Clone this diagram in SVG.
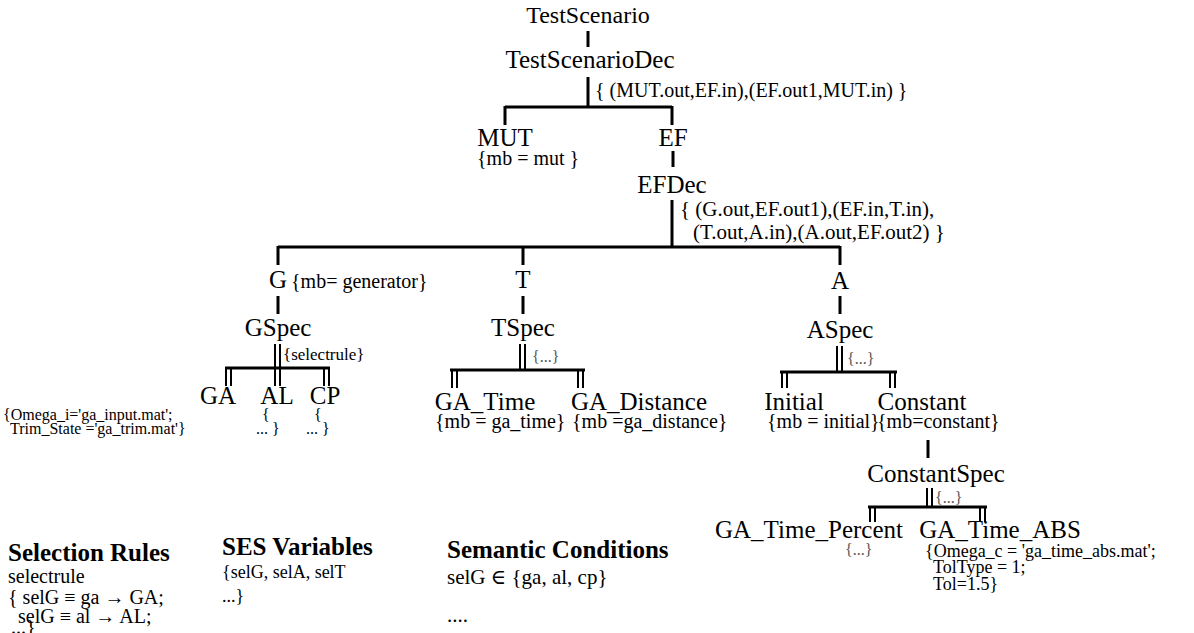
<svg xmlns="http://www.w3.org/2000/svg" width="1194" height="633" viewBox="0 0 1194 633" font-family="'Liberation Serif', 'Times New Roman', Times, 'DejaVu Serif', serif">
  <style>
    text { font-family: "Liberation Serif", "Times New Roman", Times, "DejaVu Serif", serif; fill: #000; }
    .lbl { font-size: 25px; text-anchor: middle; }
    .ann { font-size: 20px; }
    .ann2 { font-size: 21px; }
    .sel { font-size: 17px; }
    .sm { font-size: 16px; }
    .abs { font-size: 18px; }
    .dots { font-size: 16px; fill: #555; }
    .hd { font-size: 25px; font-weight: bold; }
    .rule { font-size: 20px; }
    .var { font-size: 18px; }
    .cond { font-size: 21px; }
    .edge { stroke: #000; stroke-width: 3; fill: none; }
    .spec { stroke: #000; stroke-width: 2; fill: none; }
  </style>
  <rect width="1194" height="633" fill="#fff"/>

  <!-- connectors: single lines = aspects, double lines = specializations -->
  <g id="connectors">
    <path class="edge" d="M588 31V47"/>
    <path class="edge" d="M588 77V107M505 107H672M505 106V125M672 106V125"/>
    <path class="edge" d="M673 151V167"/>
    <path class="edge" d="M672 200V247M278 247H840M278 246V265M523 246V265M840 246V265"/>
    <path class="edge" d="M278 296V314M523 296V314M840 296V314"/>

    <!-- GSpec -->
    <path class="spec" d="M275 344V368M280 344V368"/>
    <path class="edge" d="M225 368H330"/>
    <path class="spec" d="M226 368V386M231 368V386M275 368V386M280 368V386M324 368V386M329 368V386"/>
    <!-- TSpec -->
    <path class="spec" d="M520 344V370M525 344V370"/>
    <path class="edge" d="M450 370H585"/>
    <path class="spec" d="M452 370V388M457 370V388M578 370V388M583 370V388"/>
    <!-- ASpec -->
    <path class="spec" d="M837 346V372M842 346V372"/>
    <path class="edge" d="M780 372H897"/>
    <path class="spec" d="M782 372V388M787 372V388M890 372V388M895 372V388"/>
    <!-- Constant -> ConstantSpec -->
    <path class="edge" d="M928 440V458"/>
    <path class="spec" d="M927 488V507M932 488V507"/>
    <path class="edge" d="M868 507H987"/>
    <path class="spec" d="M870 507V522M875 507V522M980 507V522M985 507V522"/>
  </g>

  <g id="TestScenario"><text class="lbl" x="588" y="23" style="font-size:24px">TestScenario</text></g>
  <g id="TestScenarioDec">
    <text class="lbl" x="590" y="68">TestScenarioDec</text>
    <text class="ann" x="595" y="97">{ (MUT.out,EF.in),(EF.out1,MUT.in) }</text>
  </g>
  <g id="MUT">
    <text class="lbl" x="505" y="146">MUT</text>
    <text class="ann" x="477" y="165">{mb = mut }</text>
  </g>
  <g id="EF"><text class="lbl" x="673" y="146">EF</text></g>
  <g id="EFDec">
    <text class="lbl" x="672" y="193">EFDec</text>
    <text class="ann2" x="680" y="216">{ (G.out,EF.out1),(EF.in,T.in),</text>
    <text class="ann2" x="693" y="239">(T.out,A.in),(A.out,EF.out2) }</text>
  </g>

  <g id="G">
    <text class="lbl" x="278" y="288">G</text>
    <text class="ann" x="291" y="288">{mb= generator}</text>
  </g>
  <g id="T"><text class="lbl" x="523" y="288">T</text></g>
  <g id="A"><text class="lbl" x="840" y="289">A</text></g>

  <g id="GSpec">
    <text class="lbl" x="278" y="336">GSpec</text>
    <text class="sel" x="283" y="360">{selectrule}</text>
  </g>
  <g id="TSpec">
    <text class="lbl" x="523" y="336">TSpec</text>
    <text class="dots" x="532" y="362">{...}</text>
  </g>
  <g id="ASpec">
    <text class="lbl" x="840" y="338">ASpec</text>
    <text class="dots" x="847" y="364">{...}</text>
  </g>

  <g id="GA">
    <text class="lbl" x="218" y="404">GA</text>
    <text class="sm" x="3" y="420">{Omega_i='ga_input.mat';</text>
    <text class="sm" x="10" y="434">Trim_State ='ga_trim.mat'}</text>
  </g>
  <g id="AL">
    <text class="lbl" x="277" y="404">AL</text>
    <text class="sm" x="262" y="420">{</text>
    <text class="sm" x="256" y="434">... }</text>
  </g>
  <g id="CP">
    <text class="lbl" x="325" y="404">CP</text>
    <text class="sm" x="314" y="420">{</text>
    <text class="sm" x="306" y="434">... }</text>
  </g>

  <g id="GA_Time">
    <text class="lbl" x="485" y="410">GA_Time</text>
    <text class="ann" x="435" y="428">{mb = ga_time}</text>
  </g>
  <g id="GA_Distance">
    <text class="lbl" x="639" y="410">GA_Distance</text>
    <text class="ann" x="572" y="428">{mb =ga_distance}</text>
  </g>

  <g id="Initial">
    <text class="lbl" x="794" y="410">Initial</text>
    <text class="ann" x="767" y="428">{mb = initial}</text>
  </g>
  <g id="Constant">
    <text class="lbl" x="922" y="410">Constant</text>
    <text class="ann" x="877" y="428">{mb=constant}</text>
  </g>
  <g id="ConstantSpec">
    <text class="lbl" x="936" y="482">ConstantSpec</text>
    <text class="dots" x="935" y="503">{...}</text>
  </g>
  <g id="GA_Time_Percent">
    <text class="lbl" x="809" y="538">GA_Time_Percent</text>
    <text class="dots" x="845" y="555">{...}</text>
  </g>
  <g id="GA_Time_ABS">
    <text class="lbl" x="1000" y="538">GA_Time_ABS</text>
    <text class="abs" x="925" y="557">{Omega_c = 'ga_time_abs.mat';</text>
    <text class="abs" x="933" y="573">TolType = 1;</text>
    <text class="abs" x="933" y="590">Tol=1.5}</text>
  </g>

  <!-- legend blocks -->
  <g id="SelectionRules">
    <text class="hd" x="8" y="561">Selection Rules</text>
    <text class="rule" x="8" y="583">selectrule</text>
    <text class="rule" x="8" y="604">{ selG ≡ ga → GA;</text>
    <text class="rule" x="18" y="623">selG ≡ al → AL;</text>
    <text class="rule" x="11" y="634">...}</text>
  </g>
  <g id="SESVariables">
    <text class="hd" x="222" y="555">SES Variables</text>
    <text class="var" x="222" y="578">{selG, selA, selT</text>
    <text class="var" x="222" y="602">...}</text>
  </g>
  <g id="SemanticConditions">
    <text class="hd" x="447" y="558">Semantic Conditions</text>
    <text class="cond" x="447" y="584">selG ∈ {ga, al, cp}</text>
    <text class="cond" x="447" y="622">....</text>
  </g>
</svg>
